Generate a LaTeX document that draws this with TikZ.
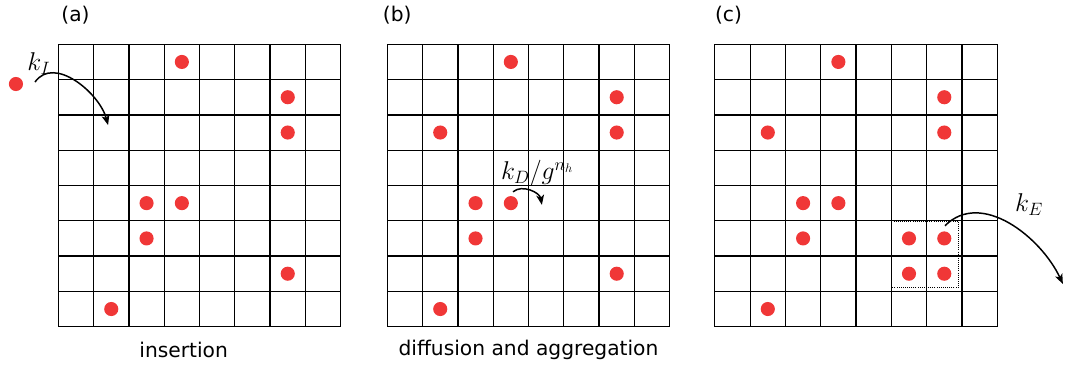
\documentclass[tikz,border=0pt]{standalone}
\usepackage{fontspec}
\setmainfont{DejaVu Sans}
\usetikzlibrary{arrows.meta}
\definecolor{dotred}{RGB}{240,55,55}
\tikzset{
  molecule/.style={circle, fill=dotred, inner sep=0pt, minimum size=0.4cm},
  lattice/.style={line width=1pt, step=1},
  panel/.style={anchor=west, inner sep=0pt, font=\fontsize{16.3}{19}\selectfont},
  caption/.style={anchor=base, inner sep=0pt, font=\fontsize{16.3}{19}\selectfont},
  rate/.style={inner sep=0pt, font=\fontsize{20}{24}\selectfont},
  hop/.style={-{Stealth[length=2.8mm, width=2.2mm, inset=0.7mm]}, line width=1.2pt}
}

\begin{document}
\begin{tikzpicture}
  \useasboundingbox (-1.652,-1.170) rectangle (28.52,9.255);
  % (a) insertion
  \draw[lattice] (0,0) grid (8,8);
  \node[panel] (la) at (0.08,8.83) {(a)};
  \foreach \c/\r in {3/0, 6/1, 6/2, 2/4, 3/4, 2/5, 6/6, 1/7}
    \node[molecule] (a\c\r) at (\c+0.5,7.5-\r) {};
  \node[molecule] (ain) at (-1.2,6.875) {};
  \coordinate (kIs) at (-0.66,6.93);
  \coordinate (kIe) at (1.41,5.71);
  \draw[hop] (kIs) to[out=55, in=105] (kIe);
  \node[rate] (kI) at (-0.55,7.45) {$k_I$};
  \node[caption] (ca) at (3.55,-0.887) {insertion};
  %
  % (b) diffusion and aggregation
  \begin{scope}[xshift=9.32cm]
    \draw[lattice] (0,0) grid (8,8);
    \foreach \c/\r in {3/0, 6/1, 1/2, 6/2, 2/4, 3/4, 2/5, 6/6, 1/7}
      \node[molecule] (b\c\r) at (\c+0.5,7.5-\r) {};
  \end{scope}
  \node[panel] (lb) at (9.19,8.83) {(b)};
  \coordinate (kDs) at (12.88,3.82);
  \coordinate (kDe) at (13.70,3.45);
  \draw[hop] (kDs) to[out=40, in=100] (kDe);
  \node[rate] (kD) at (13.57,4.35) {$k_D/g^{n_h}$};
  \node[caption] (cb) at (13.32,-0.83) {diffusion and aggregation};
  %
  % (c) evaporation of a cluster
  \begin{scope}[xshift=18.6cm]
    \draw[lattice] (0,0) grid (8,8);
    \foreach \c/\r in {3/0, 6/1, 1/2, 6/2, 2/4, 3/4, 2/5, 5/5, 6/5, 5/6, 6/6, 1/7}
      \node[molecule] (c\c\r) at (\c+0.5,7.5-\r) {};
    \draw[densely dotted, line width=0.7pt] (5,1.12) rectangle (6.91,2.97);
  \end{scope}
  \node[panel] (lc) at (18.6,8.83) {(c)};
  \coordinate (kEs) at (25.12,2.86);
  \coordinate (kEe) at (28.46,1.21);
  \draw[hop] (kEs) to[out=45, in=115] (kEe);
  \node[rate] (kE) at (27.5,3.47) {$k_E$};
\end{tikzpicture}
\end{document}
